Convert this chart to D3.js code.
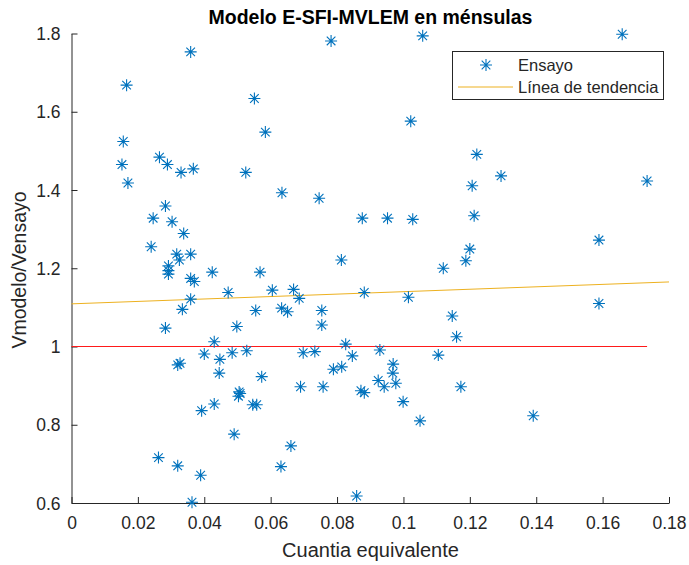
<!DOCTYPE html>
<html>
<head>
<meta charset="utf-8">
<script src="https://cdn.jsdelivr.net/npm/d3@7"></script>
<style>
  html, body { margin: 0; padding: 0; background: #fff; }
  svg { display: block; font-family: "Liberation Sans", Arial, Helvetica, sans-serif; }
</style>
</head>
<body>
<svg id="chart" width="689" height="565"></svg>
<script>
// Test results: equivalent reinforcement ratio vs. model/test shear ratio
const cuantia = [
  0.0359, 0.0166, 0.0551, 0.0584, 0.0156, 0.0265, 0.0289, 0.0152, 0.0330, 0.0367,
  0.0525, 0.0170, 0.0634, 0.0746, 0.0782, 0.1058, 0.1022, 0.0283, 0.0246, 0.0303,
  0.0338, 0.0240, 0.0317, 0.0325, 0.0359, 0.0292, 0.0292, 0.0292, 0.0359, 0.0370,
  0.0424, 0.0568, 0.0472, 0.0605, 0.0359, 0.0334, 0.0555, 0.0283, 0.0498, 0.0430,
  0.0400, 0.0447, 0.0484, 0.0528, 0.0327, 0.0320, 0.0445, 0.0573, 0.0505, 0.0508,
  0.0503, 0.0430, 0.0392, 0.0546, 0.0558, 0.0490, 0.0262, 0.0320, 0.0389, 0.0363,
  0.0876, 0.0952, 0.1028, 0.0813, 0.1120, 0.0669, 0.0686, 0.0882, 0.1015, 0.0633,
  0.0651, 0.0754, 0.0754, 0.1147, 0.1160, 0.0826, 0.0698, 0.0733, 0.0846, 0.0929,
  0.1105, 0.0789, 0.0814, 0.0969, 0.0968, 0.0924, 0.0942, 0.0977, 0.0690, 0.0758,
  0.0872, 0.0882, 0.0999, 0.1050, 0.0661, 0.0631, 0.0859, 0.1659, 0.1221, 0.1294,
  0.1207, 0.1734, 0.1213, 0.1589, 0.1200, 0.1188, 0.1589, 0.1173, 0.1391
];
const ratio = [
  1.753, 1.668, 1.634, 1.548, 1.524, 1.484, 1.465, 1.465, 1.445, 1.454,
  1.445, 1.418, 1.393, 1.379, 1.781, 1.794, 1.576, 1.359, 1.328, 1.319,
  1.289, 1.255, 1.236, 1.221, 1.236, 1.206, 1.194, 1.185, 1.174, 1.166,
  1.190, 1.190, 1.138, 1.144, 1.121, 1.095, 1.092, 1.047, 1.051, 1.012,
  0.981, 0.967, 0.984, 0.989, 0.957, 0.953, 0.932, 0.923, 0.884, 0.880,
  0.873, 0.853, 0.836, 0.851, 0.851, 0.776, 0.716, 0.695, 0.671, 0.602,
  1.328, 1.328, 1.325, 1.221, 1.200, 1.146, 1.123, 1.138, 1.126, 1.098,
  1.089, 1.092, 1.055, 1.078, 1.025, 1.006, 0.984, 0.987, 0.976, 0.991,
  0.978, 0.942, 0.948, 0.955, 0.932, 0.913, 0.897, 0.906, 0.897, 0.897,
  0.887, 0.882, 0.859, 0.810, 0.746, 0.693, 0.618, 1.798, 1.491, 1.436,
  1.411, 1.423, 1.334, 1.272, 1.249, 1.219, 1.110, 0.897, 0.823
];

// Reference line (ratio = 1) and fitted trend line
const refX = [0, 0.1734];
const refY = [1, 1];
const trendX = [0, 0.18];
const trendY = [1.109, 1.165];

const xTicks = [0, 0.02, 0.04, 0.06, 0.08, 0.1, 0.12, 0.14, 0.16, 0.18];
const yTicks = [0.6, 0.8, 1, 1.2, 1.4, 1.6, 1.8];
const seriesNames = ["Ensayo", "Línea de tendencia"];

const svg = d3.select("#chart");
const plotLeft = 71.5, plotRight = 669, plotTop = 33.5, plotBottom = 503;
const axisColor = "#262626";

const x = d3.scaleLinear().domain([0, 0.18]).range([plotLeft, plotRight]);
const y = d3.scaleLinear().domain([0.6, 1.8]).range([plotBottom, plotTop]);

// Asterisk marker: plus plus a shorter diagonal cross
function asterisk(cx, cy, r) {
  const d = r * 0.72;
  return `M${cx - r},${cy}L${cx + r},${cy}M${cx},${cy - r}L${cx},${cy + r}` +
         `M${cx - d},${cy - d}L${cx + d},${cy + d}M${cx - d},${cy + d}L${cx + d},${cy - d}`;
}

const fmt = v => String(+v.toFixed(2));

// x axis
const xAxis = d3.axisBottom(x).tickValues(xTicks).tickFormat(fmt).tickSizeInner(-6).tickSizeOuter(0).tickPadding(14);
const gx = svg.append("g").attr("transform", `translate(0,${plotBottom})`).call(xAxis);
// y axis
const yAxis = d3.axisLeft(y).tickValues(yTicks).tickFormat(fmt).tickSizeInner(-6).tickSizeOuter(0).tickPadding(11);
const gy = svg.append("g").attr("transform", `translate(${plotLeft},0)`).call(yAxis);

[gx, gy].forEach(g => {
  g.select(".domain").attr("stroke", axisColor).attr("stroke-width", 1);
  g.selectAll(".tick line").attr("stroke", axisColor).attr("stroke-width", 1);
  g.selectAll(".tick text").attr("fill", axisColor).style("font-size", "17.5px")
    .style("font-family", '"Liberation Sans", Arial, sans-serif');
});
gy.selectAll(".tick text").attr("dy", "0.35em");

// Lines
const line = d3.line().x(d => x(d[0])).y(d => y(d[1]));
svg.append("path")
  .datum(refX.map((v, i) => [v, refY[i]]))
  .attr("d", line).attr("fill", "none").attr("stroke", "#ff1a1a").attr("stroke-width", 1);
svg.append("path")
  .datum(trendX.map((v, i) => [v, trendY[i]]))
  .attr("d", line).attr("fill", "none").attr("stroke", "#EDB120").attr("stroke-width", 1);

// Points
svg.append("g").selectAll("path")
  .data(cuantia.map((v, i) => [v, ratio[i]]))
  .join("path")
  .attr("d", d => asterisk(x(d[0]), y(d[1]), 6))
  .attr("fill", "none").attr("stroke", "#0072BD").attr("stroke-width", 1.1);

// Title and axis labels
svg.append("text").attr("x", 370.5).attr("y", 24).attr("text-anchor", "middle")
  .style("font-size", "19.5px").style("font-weight", "bold").attr("fill", "#000")
  .text("Modelo E-SFI-MVLEM en ménsulas");
svg.append("text").attr("x", 370.5).attr("y", 557).attr("text-anchor", "middle")
  .style("font-size", "20px").attr("fill", axisColor)
  .text("Cuantia equivalente");
svg.append("text").attr("transform", "translate(26,270) rotate(-90)").attr("text-anchor", "middle")
  .style("font-size", "19.5px").attr("fill", axisColor)
  .text("Vmodelo/Vensayo");

// Legend
const lg = svg.append("g");
lg.append("rect").attr("x", 452.5).attr("y", 51.5).attr("width", 211).attr("height", 48)
  .attr("fill", "#fff").attr("stroke", axisColor).attr("stroke-width", 1);
lg.append("path").attr("d", asterisk(486, 65, 6)).attr("fill", "none").attr("stroke", "#0072BD").attr("stroke-width", 1.1);
lg.append("line").attr("x1", 458).attr("x2", 513).attr("y1", 87).attr("y2", 87)
  .attr("stroke", "#EDB120").attr("stroke-width", 1);
lg.append("text").attr("x", 518).attr("y", 71).style("font-size", "16.5px").attr("fill", axisColor).text(seriesNames[0]);
lg.append("text").attr("x", 518).attr("y", 93).style("font-size", "16.5px").attr("fill", axisColor).text(seriesNames[1]);
</script>
</body>
</html>
